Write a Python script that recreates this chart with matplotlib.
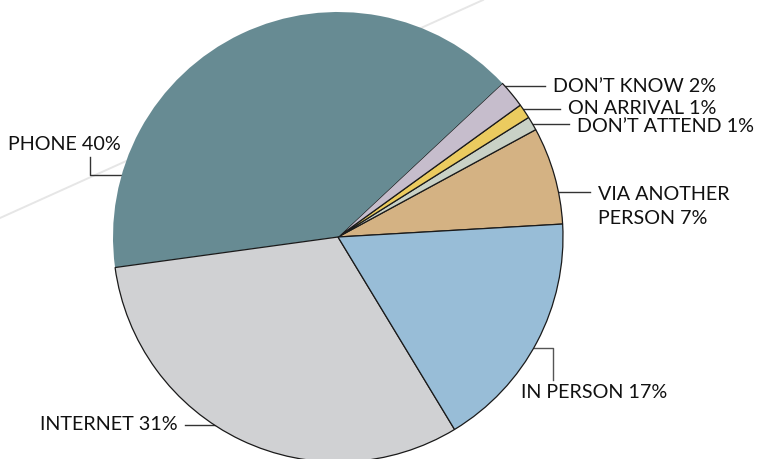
import numpy as np
import matplotlib.pyplot as plt

W, H = 762, 459

# slice shares, counterclockwise from the right
names = ["VIA ANOTHER\nPERSON 7%", "DON\u2019T ATTEND 1%", "ON ARRIVAL 1%", "DON\u2019T KNOW 2%",
         "PHONE 40%", "INTERNET 31%", "IN PERSON 17%"]
shares = [7.0, 1.0, 1.05, 2.0, 40.2, 31.5, 17.25]
colors = ["#d4b283", "#c9d1c6", "#ebcb5f", "#c6bdcc", "#678b93", "#d0d1d3", "#98bdd7"]

# label text anchor (pixels from top-left), alignment and leader row
label_x = [598, 577, 568, 553, 64, 178, 521]
label_ha = ["left", "left", "left", "left", "center", "right", "left"]
label_y = [206, 126, 109, 86, 145, 425, 393]
lead_y = [192, 124, 109, 86, 175, 425, 348]

cx, cy, r = 338, 237, 225

fig = plt.figure(figsize=(W / 100, H / 100), dpi=100)
ax = fig.add_axes([0, 0, 1, 1])

# faint diagonal behind the pie
ax.plot([0, 483], [H - 218, H], color="#e6e6e6", lw=1.4, zorder=0)

wedges, _ = ax.pie(shares, colors=colors, startangle=3.3, counterclock=True,
                   center=(cx, H - cy), radius=r,
                   wedgeprops=dict(edgecolor="#1a1a1a", linewidth=0.9))
wedges[4].set_edgecolor("none")
for w in wedges:
    w.set_zorder(2)

ax.set_xlim(0, W)
ax.set_ylim(0, H)
ax.set_aspect("equal")
ax.axis("off")

font = dict(family=["Lato", "DejaVu Sans"], fontsize=14.2, color="#111111")

for i, name in enumerate(names):
    ly = lead_y[i]
    dx = np.sqrt(r ** 2 - (ly - cy) ** 2)
    if i == 4:
        # phone: hook up to the label
        x0 = cx - dx
        ax.plot([x0, 90, 90], [H - ly, H - ly, H - 157], color="#333333", lw=1, zorder=1)
    elif i == 5:
        x0 = cx - dx
        ax.plot([x0 + 3, 185], [H - ly, H - ly], color="#333333", lw=1, zorder=1)
    elif i == 6:
        x0 = cx + dx
        ax.plot([x0, 553, 553], [H - ly, H - ly, H - 380], color="#555555", lw=1, zorder=1)
    else:
        x0 = cx + dx
        ax.plot([x0, label_x[i] - 8], [H - ly, H - ly], color="#333333", lw=1, zorder=1)
    ax.text(label_x[i], H - label_y[i], name, ha=label_ha[i], va="center",
            linespacing=1.5, **font)

fig.savefig("out.png", dpi=100)
